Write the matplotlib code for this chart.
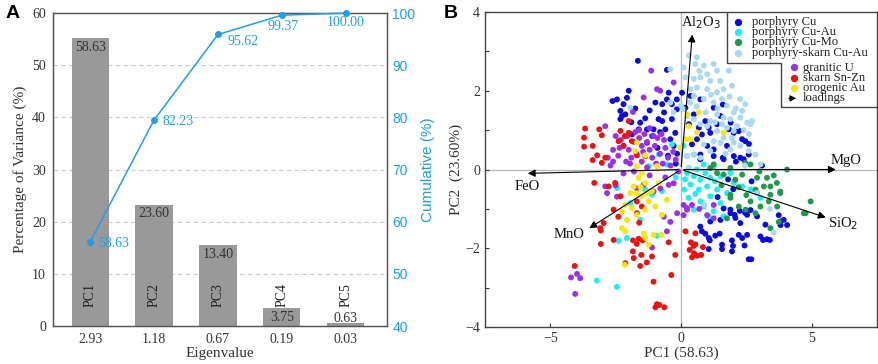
import matplotlib
matplotlib.use("Agg")
import matplotlib.pyplot as plt
import numpy as np

# ---------------- data: panel A ----------------
pcs = ["PC1", "PC2", "PC3", "PC4", "PC5"]
eigenvalues = ["2.93", "1.18", "0.67", "0.19", "0.03"]
variance_labels = ["58.63", "23.60", "13.40", "3.75", "0.63"]
bar_heights = [55.2, 23.3, 15.5, 3.4, 0.6]          # as drawn
cumulative_labels = ["58.63", "82.23", "95.62", "99.37", "100.00"]
cumulative_drawn = [56.1, 79.5, 95.9, 99.6, 100.0]   # as drawn

# ---------------- data: panel B ----------------
porphyry_cu = [(-1.65,2.76),(-0.54,2.53),(-2.0,2.0),(-2.62,1.74),(-2.45,1.78),(-2.2,1.66),(-2.32,1.49),(-2.13,1.4),
    (-2.26,1.36),(-2.07,1.82),(-1.37,1.3),(-1.56,1.19),(-1.3,1.02),(-0.98,1.7),(-0.72,1.66),(-0.54,1.78),(-0.47,1.95),
    (-0.86,1.28),(-0.72,1.23),(-0.6,1.02),(-0.35,1.28),(-1.1,0.85),(-0.22,0.93),(-2.32,1.28),(-1.62,1.02),(-1.88,0.89),
    (-0.35,1.66),(-0.16,1.78),(-0.16,1.53),(0.04,1.95),(0.36,1.87),(0.17,1.57),(0.74,1.78),(0.49,1.4),(0.93,1.23),
    (1.25,1.57),(1.51,1.36),(0.68,1.06),(1.06,1.06),(1.12,0.93),(1.83,1.02),(2.02,0.93),(2.21,0.98),(1.9,1.19),
    (1.38,1.15),(0.8,0.89),(2.34,0.77),(2.46,0.72),(2.02,0.34),(1.76,0.6),(1.0,0.6),(1.25,0.34),(0.74,0.26),(1.6,0.3),
    (2.1,0.2),(0.61,0.77),(2.4,0.26),(2.21,0.98),(-1.05,1.02),(-0.8,0.95),(-0.41,0.77),(-0.28,0.6),(-0.15,0.4),
    (-0.5,0.35),(-1.3,0.68),(-0.9,0.55),(-0.2,0.15),(0.42,0.64),(0.74,0.38),(1.25,0.51),(1.63,0.26),(2.27,0.3),
    (2.59,0.38),(1.89,-1.02),(2.08,-1.23),(2.53,-1.15),(2.91,-1.19),(1.51,-1.28),(2.27,-1.36),(3.23,-1.4),(3.8,-1.32),
    (0.74,-1.45),(1.12,-1.32),(0.8,-1.57),(0.93,-1.63),(1.06,-1.74),(1.1,-1.8),(1.31,-1.68),(1.48,-1.63),(1.57,-1.91),
    (1.57,-2.02),(1.95,-1.8),(1.99,-1.94),(1.95,-2.08),(2.21,-1.66),(2.34,-1.74),(2.53,-1.66),(2.43,-1.93),(2.59,-2.28),
    (2.69,-2.28),(3.04,-1.7),(3.14,-1.79),(3.29,-1.77),(3.4,-1.79),(1.06,-2.02),(3.81,-1.41),(4.06,-1.41),(3.93,-1.28),
    (3.74,-1.16),(1.89,-1.11),(2.05,-1.15),(2.25,-1.05),(2.45,-1.1),(2.66,-1.03),(1.63,-0.99),(1.4,-0.7),(2.0,-0.5),
    (2.7,-0.3),(3.1,0.1),(1.8,-0.25),(-1.75,1.55),(-1.9,1.2),(-0.65,1.45),(-1.2,1.5),(0.3,1.15),(1.6,1.65),(2.6,0.65)]
porphyry_cu_au = [(0.23,0.34),(0.49,0.38),(0.87,0.13),(1.25,0.08),(0.23,-0.09),(0.49,-0.17),(0.74,-0.26),(1.12,-0.21),
    (1.51,-0.17),(0.36,-0.38),(0.68,-0.51),(1.0,-0.43),(1.38,-0.51),(1.76,-0.6),(0.29,-0.72),(0.74,-0.81),(1.12,-0.68),
    (1.51,-0.85),(0.49,-1.02),(0.87,-0.94),(1.25,-1.06),(1.06,-1.19),(2.02,-0.34),(2.34,-0.43),(2.66,-0.51),(3.04,-0.72),
    (0.12,-0.51),(1.63,-1.19),(1.89,-0.09),(0.93,-0.09),(0.6,0.0),(1.3,-0.3),(0.15,-0.25),(0.55,-0.62),(-1.24,0.085),
    (-0.54,0.13),(-0.85,0.38),(-2.45,-0.47),(-0.73,-0.55),(-1.37,-0.51),(-1.11,-0.64),(-1.94,-0.85),(-1.56,-1.28),
    (-0.35,0.64),(-2.07,-1.74),(-2.39,-1.81),(-0.92,-1.68),(-3.22,-2.82),(-2.45,-2.98),(-0.2,-0.2),(0.1,0.6)]
porphyry_cu_mo = [(4.06,0.0),(2.66,0.13),(2.34,-0.13),(2.91,-0.21),(3.29,-0.21),(3.67,-0.34),(3.17,-0.43),(2.85,-0.51),
    (3.42,-0.64),(3.8,-0.6),(4.96,-0.81),(4.7,-1.11),(2.66,-0.81),(3.04,-0.94),(2.47,-1.02),(1.89,-0.64),(1.63,-0.13),
    (1.38,-0.09),(2.08,-0.26),(2.91,-0.6),(2.21,-0.94),(2.85,-1.11),(3.42,-1.49),(1.89,-0.72),(3.36,-0.81),(2.46,0.17),
    (1.89,0.04),(1.12,0.04),(1.25,0.13),(3.42,-0.43),(3.8,-0.56),(3.68,-0.94),(3.74,-1.33),(4.77,-1.11),(1.76,-1.24),
    (2.2,-0.45),(3.0,-0.05),(2.5,-0.65),(3.55,-0.15),(1.55,-0.4)]
porphyry_skarn_cu_au = [(-0.41,2.55),(0.1,2.59),(0.55,2.68),(0.87,2.64),(1.25,2.68),(0.17,2.34),(0.49,2.3),(0.74,2.34),
    (1.0,2.42),(1.12,2.25),(1.83,2.51),(1.95,2.13),(1.63,2.04),(1.38,1.96),(1.0,2.04),(0.61,2.08),(0.36,2.04),(0.49,1.87),
    (0.87,1.79),(1.25,1.7),(1.57,1.79),(1.76,1.62),(2.02,1.45),(2.34,1.49),(2.27,1.32),(2.46,1.66),(2.53,1.19),(2.66,1.15),
    (2.72,1.23),(1.89,1.28),(1.63,1.32),(1.38,1.4),(1.12,1.23),(1.57,1.15),(1.76,1.06),(2.02,0.98),(2.15,1.1),(1.38,0.98),
    (1.0,1.1),(0.74,1.15),(0.49,1.28),(0.23,1.36),(0.1,1.53),(0.0,1.62),(-0.28,1.45),(-0.41,1.7),(2.02,0.68),(2.27,0.6),
    (2.59,0.47),(2.85,0.38),(3.04,0.13),(1.89,0.51),(1.63,0.81),(1.25,0.72),(0.87,0.64),(0.49,0.38),(0.75,0.3),(0.23,0.34),
    (1.12,0.47),(1.51,0.68),(-1.94,1.57),(2.27,1.79),(1.38,2.51),(0.3,2.9),(0.6,2.85),(1.85,1.85),(2.1,1.55),(1.4,1.55),
    (0.95,1.45),(0.35,1.7),(1.7,0.4),(2.45,0.1),(3.4,-1.0),(3.55,-1.6),(2.9,-0.6),(0.9,-0.9),(0.3,0.05),(2.6,0.9),
    (1.15,1.9),(0.7,2.5),(1.5,2.25),(2.4,1.0),(1.95,0.8),(0.6,1.6),(1.3,1.2)]
granitic_u = [(-1.14,2.51),(-0.92,2.04),(-0.8,2.0),(-1.43,1.83),(-1.84,1.46),(-2.9,1.1),(-0.28,2.21),(-2.5,0.85),
    (-2.3,0.75),(-2.2,0.6),(-2.0,0.5),(-1.8,0.7),(-1.6,0.8),(-1.5,0.6),(-1.4,0.9),(-1.3,0.7),(-1.2,0.5),(-1.0,0.6),
    (-0.9,0.8),(-0.8,0.4),(-0.6,0.55),(-0.5,0.3),(-0.3,0.45),(-1.7,0.4),(-1.9,0.3),(-2.1,0.2),(-2.4,0.35),(-2.6,0.5),
    (-1.1,0.3),(-0.7,0.15),(-1.5,0.2),(-1.3,0.05),(-2.7,0.1),(-2.2,-0.1),(-1.8,-0.05),(-1.6,1.0),(-1.2,1.05),(-0.4,0.1),
    (-2.35,0.55),(-1.95,0.15),(-1.05,0.85),(-0.65,0.75),(-1.45,0.45),(-0.95,0.15),(-2.8,0.3),(-0.2,0.25),(-2.83,-0.6),
    (-2.45,-0.69),(-2.9,-0.43),(-2.5,-0.4),(-1.69,-0.48),(-1.05,-0.56),(-1.43,-0.39),(-0.79,-0.48),(-0.47,-0.39),
    (-0.28,-0.35),(0.1,-0.9),(0.23,-0.98),(0.1,-1.16),(-0.15,-1.11),(-0.66,-1.2),(-0.41,-1.33),(1.0,-1.16),(1.25,-1.24),
    (0.42,-0.9),(0.23,-1.02),(0.7,-1.0),(1.25,-0.9),(-0.6,-0.2),(-1.2,-0.15),(-0.1,-0.05),(-3.98,-2.65),(-4.21,-2.74),
    (-3.86,-2.76),(-4.05,-3.16),(-0.54,-1.57),(-1.11,-1.98),(-2.05,0.85),(-1.75,0.95),(-0.75,0.9),(-2.6,0.2)]
skarn_sn_zn = [(-3.67,1.04),(-3.13,1.02),(-3.71,0.81),(-3.03,0.87),(-2.0,1.23),(-2.32,0.98),(-2.0,0.93),(-2.15,0.85),
    (-3.71,0.58),(-3.38,0.6),(-3.21,0.36),(-3.38,0.24),(-3.03,0.17),(-2.9,0.3),(-2.39,0.72),(-2.2,0.6),(-1.69,0.36),
    (-1.37,0.34),(-1.88,0.72),(-3.32,-0.34),(-2.77,-0.43),(-2.52,-0.34),(-2.32,-0.68),(-1.69,-0.81),(-1.5,-0.94),
    (-1.69,-1.11),(-1.6,-1.35),(-2.96,-1.36),(-3.09,-1.49),(-2.58,-1.02),(-2.4,-1.2),(-3.07,-1.55),(-3.07,-1.89),
    (-2.58,-1.79),(-1.84,-1.8),(-1.69,-1.89),(-1.62,-1.76),(-1.47,-1.8),(-1.84,-2.08),(-1.52,-2.17),(-1.81,-2.25),
    (-2.13,-2.38),(-1.56,-2.45),(-1.31,-2.36),(-1.11,-2.21),(-0.47,-1.85),(-0.22,-2.17),(-0.37,-2.68),(-1.05,-2.85),
    (-4.07,-2.45),(-0.92,-3.42),(-0.83,-3.44),(-0.98,-3.5),(-0.64,-3.5),(0.55,-1.62),(0.38,-1.85),(0.48,-1.94),
    (0.33,-2.04),(0.5,-2.13),(0.42,-2.23),(0.61,-2.19),(0.77,-2.17),(0.84,-1.97),(0.17,-1.57),(0.55,-1.9)]
orogenic_au = [(-1.69,0.68),(-1.5,-0.09),(-1.62,-0.21),(-1.37,-0.34),(-1.81,-0.43),(-1.94,-0.6),(-1.69,-0.6),(-1.5,-0.68),
    (-1.24,-0.81),(-2.13,-0.9),(-1.88,-0.98),(-2.26,-1.07),(-1.69,-1.15),(-2.07,-1.28),(-0.85,-0.34),(-0.54,-0.77),
    (-0.98,-0.94),(-1.37,-1.02),(-1.11,-0.55),(-0.73,-1.15),(-2.26,-1.49),(-2.13,-1.57),(-1.43,-1.63),(-1.37,-1.74),
    (-1.24,-1.91),(-1.05,-1.66),(-0.75,-1.66),(-2.15,-2.42),(0.23,1.4),(0.68,1.45),(0.29,1.1),(0.61,0.94),(0.36,0.77),
    (0.17,0.77),(1.63,0.94),(-0.03,0.55),(-1.75,0.47),(-1.37,0.36),(-0.92,0.085),(-1.69,0.085),(-1.55,-0.45),(-1.3,-0.6)]

groups = [porphyry_cu, porphyry_cu_au, porphyry_cu_mo, porphyry_skarn_cu_au, granitic_u, skarn_sn_zn, orogenic_au]
group_names = ["porphyry Cu", "porphyry Cu-Au", "porphyry Cu-Mo", "porphyry-skarn Cu-Au",
               "granitic U", "skarn Sn-Zn", "orogenic Au"]
group_colors = ["#0a0ae6", "#19f0f0", "#1f9a48", "#a8d8f2", "#9b30e8", "#f01010", "#fbe60a"]

loading_names = ["Al$_2$O$_3$", "MgO", "FeO", "SiO$_2$", "MnO"]
loading_x = [0.44, 6.03, -5.97, 5.64, -3.6]
loading_y = [3.5, 0.0, -0.1, -1.24, -1.53]

serif = "Liberation Serif"
blue = "#1ea0e6"
plt.rcParams["font.family"] = serif

fig = plt.figure(figsize=(8.79, 3.64), dpi=100)

# ================= panel A =================
axA = fig.add_axes([0.0603, 0.104, 0.3797, 0.860])
x = np.arange(len(pcs))
axA.bar(x, bar_heights, width=0.58, color="#999999", zorder=2)
axA.set_xlim(-0.58, 4.64)
axA.set_ylim(0, 60)
axA.set_yticks(range(0, 61, 10))
axA.set_xticks(x)
axA.set_xticklabels(eigenvalues)
for v in range(10, 60, 10):
    axA.axhline(v, color="#cccccc", lw=0.8, ls=(0, (4, 3)), zorder=1)
axA.tick_params(length=0, labelsize=10, colors="#333333", pad=5)
for s in axA.spines.values():
    s.set_color("#555555")
    s.set_linewidth(1.0)
axA.set_xlabel("Eigenvalue", fontsize=11, color="#333333", labelpad=1)
axA.set_ylabel("Percentage of Variance (%)", fontsize=11, color="#333333", labelpad=4)
for i in range(len(pcs)):
    axA.text(x[i], max(bar_heights[i] - 1.7, 1.5), variance_labels[i], ha="center", va="center",
             fontsize=10, color="#333333", zorder=3)
    axA.text(x[i], 5.9, pcs[i], rotation=90, ha="center", va="center", fontsize=10, color="#222222", zorder=3)

axC = axA.twinx()
axC.plot(x, cumulative_drawn, color=blue, lw=1.1, marker="o", ms=4, clip_on=False, zorder=4)
axC.set_ylim(40, 100)
axC.set_yticks(range(40, 101, 10))
axC.tick_params(length=0, labelsize=10, colors=blue, pad=4)
for lab in axC.get_yticklabels():
    lab.set_family("Liberation Sans")
axC.set_ylabel("Cumulative (%)", fontsize=11, color=blue, family="Liberation Sans", labelpad=4)
for s in axC.spines.values():
    s.set_color("#555555")
offsets = [(6, -1, "left"), (6, -1, "left"), (7, -5, "left"), (0.5, -8, "center"), (0, -7, "center")]
for i in range(len(pcs)):
    dx, dy, ha = offsets[i]
    axC.annotate(cumulative_labels[i], (x[i], cumulative_drawn[i]), xytext=(dx, dy),
                 textcoords="offset points", ha=ha, va="center", fontsize=10, color=blue)

# ================= panel B =================
axB = fig.add_axes([0.5518, 0.1016, 0.4459, 0.8654])
axB.axhline(0, color="#bbbbbb", lw=1.0, zorder=1)
axB.axvline(0, color="#bbbbbb", lw=1.0, zorder=1)
for pts, col in zip(groups, group_colors):
    arr = np.array(pts)
    axB.scatter(arr[:, 0], arr[:, 1], s=18, color=col, edgecolors="none", zorder=2)

for name, lx, ly in zip(loading_names, loading_x, loading_y):
    axB.annotate("", xy=(lx, ly), xytext=(0, 0),
                 arrowprops=dict(arrowstyle="-|>", color="black", lw=0.8, mutation_scale=11), zorder=5)
label_pos = [(0.75, 3.72), (6.3, 0.24), (-5.9, -0.42), (6.2, -1.38), (-4.3, -1.66)]
for name, (tx, ty) in zip(loading_names, label_pos):
    axB.text(tx, ty, name, ha="center", va="center", fontsize=10.5, color="#111111", zorder=6)

axB.set_xlim(-7.5, 7.5)
axB.set_ylim(-4, 4)
axB.set_xticks([-5, 0, 5])
axB.set_xticklabels(["\u22125", "0", "5"])
axB.set_yticks([-4, -2, 0, 2, 4])
axB.set_yticklabels(["\u22124", "\u22122", "0", "2", "4"])
axB.set_yticks([-3, -1, 1, 3], minor=True)
axB.tick_params(which="both", direction="in", length=3, width=0.8, labelsize=10, colors="#333333")
for s in axB.spines.values():
    s.set_color("#444444")
    s.set_linewidth(1.0)
axB.set_xlabel("PC1 (58.63)", fontsize=11, color="#333333", labelpad=1)
axB.set_ylabel("PC2  (23.60%)", fontsize=11, color="#333333", labelpad=2)

# legend box (L-shaped), drawn by hand
box = plt.Polygon([(0.618, 1.0), (0.618, 0.837), (0.754, 0.837), (0.754, 0.697), (1.0, 0.697), (1.0, 1.0)],
                  closed=True, transform=axB.transAxes, facecolor="white", edgecolor="#444444", lw=1.0, zorder=7)
axB.add_patch(box)
upper_y = [0.969, 0.936, 0.904, 0.871]
lower_y = [0.826, 0.789, 0.758, 0.726]
for i in range(4):
    axB.scatter(0.645, upper_y[i], s=18, color=group_colors[i], transform=axB.transAxes, zorder=8)
for i in range(3):
    axB.scatter(0.788, lower_y[i], s=18, color=group_colors[4 + i], transform=axB.transAxes, zorder=8)
axB.text(0.681, np.mean(upper_y), "\n".join(group_names[:4]), transform=axB.transAxes, va="center",
         fontsize=9.1, linespacing=0.8, color="#222222", zorder=8)
axB.text(0.811, np.mean(lower_y), "\n".join(group_names[4:] + ["loadings"]), transform=axB.transAxes,
         va="center", fontsize=9.1, linespacing=0.8, color="#222222", zorder=8)
axB.annotate("", xy=(0.801, lower_y[3]), xytext=(0.768, lower_y[3]), xycoords="axes fraction",
             arrowprops=dict(arrowstyle="-|>", color="black", lw=0.8, mutation_scale=9), zorder=8)

# panel letters
fig.text(0.006, 0.985, "A", fontsize=14, fontweight="bold", family="Liberation Sans", va="top")
fig.text(0.505, 0.985, "B", fontsize=14, fontweight="bold", family="Liberation Sans", va="top")

fig.savefig("out.png", dpi=100)
